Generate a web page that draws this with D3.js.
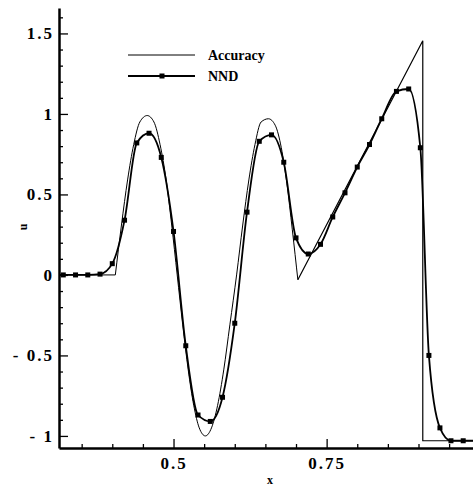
<!DOCTYPE html>
<html>
<head>
<meta charset="utf-8">
<script src="https://cdn.jsdelivr.net/npm/d3@7"></script>
<style>
  body { margin: 0; background: #fff; }
  svg  { display: block; }
  text { font-family: 'Liberation Serif', 'DejaVu Serif', serif; font-weight: bold; fill: #000; }
</style>
</head>
<body>
<svg id="chart" width="473" height="486"></svg>
<script>
// MARK: Data.

// exact ("Accuracy") solution, flat start
const accFlatX = [0.313, 0.405]
const accFlatU = [0, 0]
// exact solution, wave part
const accWaveX = [0.405, 0.415, 0.425, 0.435, 0.445, 0.457, 0.468, 0.478, 0.488, 0.497,
                  0.506, 0.515, 0.524, 0.533, 0.542, 0.552, 0.562, 0.572, 0.582, 0.592,
                  0.603, 0.613, 0.623, 0.633, 0.643, 0.655, 0.666, 0.676, 0.685, 0.694, 0.703]
const accWaveU = [0, 0.31, 0.59, 0.81, 0.95, 0.99, 0.95, 0.81, 0.59, 0.31,
                  0, -0.31, -0.59, -0.81, -0.95, -1.0, -0.95, -0.81, -0.59, -0.31,
                  0, 0.31, 0.59, 0.81, 0.95, 0.97, 0.93, 0.79, 0.57, 0.28, -0.03]
// exact solution, ramp + jump
const accRampX = [0.703, 0.907, 0.907, 0.989]
const accRampU = [-0.03, 1.455, -1.03, -1.03]

// NND scheme
const nndX = [0.313, 0.32, 0.34, 0.36, 0.38, 0.40, 0.42, 0.44, 0.46, 0.48, 0.50, 0.52, 0.54, 0.56,
              0.58, 0.60, 0.62, 0.64, 0.66, 0.68, 0.70, 0.72, 0.74, 0.76, 0.78, 0.80,
              0.82, 0.84, 0.864, 0.884, 0.903, 0.917, 0.935, 0.953, 0.973, 0.989]
const nndU = [0, 0, 0, 0, 0.005, 0.07, 0.34, 0.82, 0.88, 0.73, 0.27, -0.44, -0.87, -0.91,
              -0.76, -0.30, 0.39, 0.83, 0.87, 0.70, 0.23, 0.13, 0.19, 0.36, 0.51, 0.67,
              0.81, 0.97, 1.14, 1.155, 0.79, -0.50, -0.95, -1.03, -1.03, -1.03]

const xMajor       = [0.5, 0.75]
const xMajorLabels = ['0.5', '0.75']
const xMinor       = [0.35, 0.4, 0.45, 0.55, 0.6, 0.65, 0.7, 0.8, 0.85, 0.9, 0.95]
const yMajor       = [-1, -0.5, 0, 0.5, 1, 1.5]
const yMajorLabels = ['- 1', '- 0.5', '0', '0.5', '1', '1.5']
const yMinor       = [-0.9, -0.8, -0.7, -0.6, -0.4, -0.3, -0.2, -0.1, 0.1, 0.2, 0.3, 0.4,
                      0.6, 0.7, 0.8, 0.9, 1.1, 1.2, 1.3, 1.4, 1.6]
const legendNames  = ['Accuracy', 'NND']

// MARK: Scales.

const svg = d3.select('#chart')
const x = d3.scaleLinear([0.313, 0.989], [59, 473])
const y = d3.scaleLinear([-1.075, 1.658], [448, 8])

// MARK: Axes (ticks point inwards).

const gx = svg.append('g').attr('transform', `translate(0, ${y.range()[0]})`)
gx.call(d3.axisBottom(x).tickValues(xMinor).tickSizeInner(-4).tickSizeOuter(0).tickFormat(''))
gx.call(g => g.select('.domain').remove())
const gxMajor = svg.append('g').attr('transform', `translate(0, ${y.range()[0]})`)
  .call(d3.axisBottom(x).tickValues(xMajor).tickSizeInner(-9).tickSizeOuter(0).tickPadding(12)
    .tickFormat((d, i) => xMajorLabels[i]))
gxMajor.select('.domain').attr('stroke-width', 2.5)
gxMajor.selectAll('text').attr('font-size', 17).attr('letter-spacing', 2).attr('dy', '0.55em')

const gy = svg.append('g').attr('transform', `translate(${x.range()[0]}, 0)`)
gy.call(d3.axisLeft(y).tickValues(yMinor).tickSizeInner(-4).tickSizeOuter(0).tickFormat(''))
gy.call(g => g.select('.domain').remove())
const gyMajor = svg.append('g').attr('transform', `translate(${x.range()[0]}, 0)`)
  .call(d3.axisLeft(y).tickValues(yMajor).tickSizeInner(-9).tickSizeOuter(0).tickPadding(5)
    .tickFormat((d, i) => yMajorLabels[i]))
gyMajor.select('.domain').attr('stroke-width', 2.5)
gyMajor.selectAll('text').attr('font-size', 17).attr('letter-spacing', 2)

svg.selectAll('.tick line').attr('stroke-width', 1.3)
svg.selectAll('.tick text').style('font-family', "'Liberation Serif', serif").style('font-weight', 'bold')

// axis titles
svg.append('text').attr('x', 270).attr('y', 484).attr('text-anchor', 'middle')
  .attr('font-size', 12).text('x')
svg.append('text').attr('transform', 'translate(27, 227) rotate(-90)')
  .attr('text-anchor', 'middle').attr('font-size', 12).text('u')

// MARK: Curves.

const plot = svg.append('g')
const smooth = d3.line().x(d => x(d[0])).y(d => y(d[1])).curve(d3.curveMonotoneX)
const straight = d3.line().x(d => x(d[0])).y(d => y(d[1]))

plot.append('path')
  .attr('d', straight(d3.zip(accFlatX, accFlatU)))
  .attr('fill', 'none').attr('stroke', '#000').attr('stroke-width', 1)
plot.append('path')
  .attr('d', smooth(d3.zip(accWaveX, accWaveU)))
  .attr('fill', 'none').attr('stroke', '#000').attr('stroke-width', 1)
plot.append('path')
  .attr('d', straight(d3.zip(accRampX, accRampU)))
  .attr('fill', 'none').attr('stroke', '#000').attr('stroke-width', 1.2)

const nnd = d3.zip(nndX, nndU)
plot.append('path')
  .attr('d', smooth(nnd))
  .attr('fill', 'none').attr('stroke', '#000').attr('stroke-width', 1.8)
plot.selectAll('rect.mark')
  .data(nnd.slice(1, -1))
  .join('rect')
  .attr('class', 'mark')
  .attr('x', d => x(d[0]) - 2.5)
  .attr('y', d => y(d[1]) - 2.5)
  .attr('width', 5).attr('height', 5)
  .attr('fill', '#000')

// MARK: Legend.

const legend = svg.append('g')
legendNames.forEach((name, i) => {
  const ly = 55 + i * 21
  legend.append('line')
    .attr('x1', 128).attr('x2', 195).attr('y1', ly).attr('y2', ly)
    .attr('stroke', '#000').attr('stroke-width', i ? 1.8 : 1)
  if (i) {
    legend.append('rect').attr('x', 159.5).attr('y', ly - 2.5)
      .attr('width', 5).attr('height', 5).attr('fill', '#000')
  }
  legend.append('text').attr('x', 208).attr('y', ly + 5)
    .attr('font-size', 14).text(name)
})
</script>
</body>
</html>
